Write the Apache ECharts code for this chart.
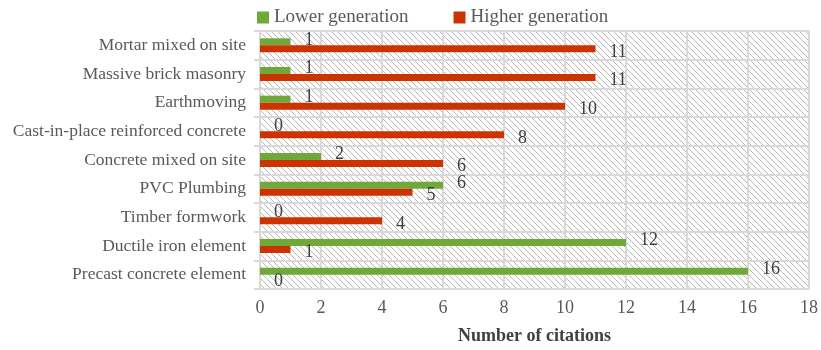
<!DOCTYPE html>
<html>
<head>
<meta charset="utf-8">
<script src="https://cdn.jsdelivr.net/npm/echarts@6/dist/echarts.min.js"></script>
<style>
  html, body { margin: 0; padding: 0; background: #fff; }
  #chart { width: 821px; height: 350px; }
</style>
</head>
<body>
<div id="chart"></div>
<script>
// categories bottom -> top
var categories = ['Precast concrete element', 'Ductile iron element', 'Timber formwork', 'PVC Plumbing',
  'Concrete mixed on site', 'Cast-in-place reinforced concrete', 'Earthmoving',
  'Massive brick masonry', 'Mortar mixed on site'];
var lowerGen = [16, 12, 0, 6, 2, 0, 1, 1, 1];
var higherGen = [0, 1, 4, 5, 6, 8, 10, 11, 11];

// hatch tile for plot background
function hatch() {
  var c = document.createElement('canvas');
  c.width = 6; c.height = 6;
  var g = c.getContext('2d');
  g.fillStyle = '#fff';
  g.fillRect(0, 0, 6, 6);
  g.strokeStyle = '#a6a6a6';
  g.lineWidth = 0.8;
  g.beginPath();
  g.moveTo(-1, -1); g.lineTo(7, 7);
  g.moveTo(-1, 5); g.lineTo(1, 7);
  g.moveTo(5, -1); g.lineTo(7, 1);
  g.stroke();
  return c;
}

var font = '"Liberation Serif", "Times New Roman", serif';
var chart = echarts.init(document.getElementById('chart'));
var lbl = { show: true, position: 'right', distance: 14, fontFamily: font, fontSize: 18, color: '#404040' };

chart.setOption({
  textStyle: { fontFamily: font },
  legend: {
    data: ['Lower generation', 'Higher generation'],
    top: 3, left: 252,
    itemWidth: 12, itemHeight: 12, itemGap: 45,
    icon: 'rect',
    textStyle: { fontFamily: font, fontSize: 19, color: '#595959' }
  },
  grid: {
    left: 260, right: 10, top: 31, bottom: 57,
    show: true, borderWidth: 0,
    backgroundColor: { image: hatch(), repeat: 'repeat' }
  },
  xAxis: {
    type: 'value', min: 0, max: 18, interval: 2,
    name: 'Number of citations', nameLocation: 'middle', nameGap: 38,
    nameTextStyle: { fontFamily: font, fontSize: 18, fontWeight: 'bold', color: '#404040' },
    axisLabel: { fontFamily: font, fontSize: 18, color: '#595959', margin: 10 },
    axisLine: { show: false },
    axisTick: { show: false },
    splitLine: { lineStyle: { color: '#d9d9d9', width: 2 } }
  },
  yAxis: {
    type: 'category', data: categories,
    axisLabel: { fontFamily: font, fontSize: 17.5, color: '#595959', margin: 14 },
    axisLine: { lineStyle: { color: '#d9d9d9', width: 2 } },
    axisTick: { show: true, length: 6, lineStyle: { color: '#d9d9d9', width: 2 } },
    splitLine: { show: true, lineStyle: { color: '#d9d9d9', width: 2 } }
  },
  series: [
    {
      name: 'Lower generation', type: 'bar', data: lowerGen,
      barWidth: 7, barGap: '0%',
      itemStyle: { color: '#70a83a' },
      label: Object.assign({}, lbl, { offset: [0, -2] })
    },
    {
      name: 'Higher generation', type: 'bar', data: higherGen,
      barWidth: 7,
      itemStyle: { color: '#cc3300' },
      label: Object.assign({}, lbl, { offset: [0, 3] })
    }
  ]
});
</script>
</body>
</html>
